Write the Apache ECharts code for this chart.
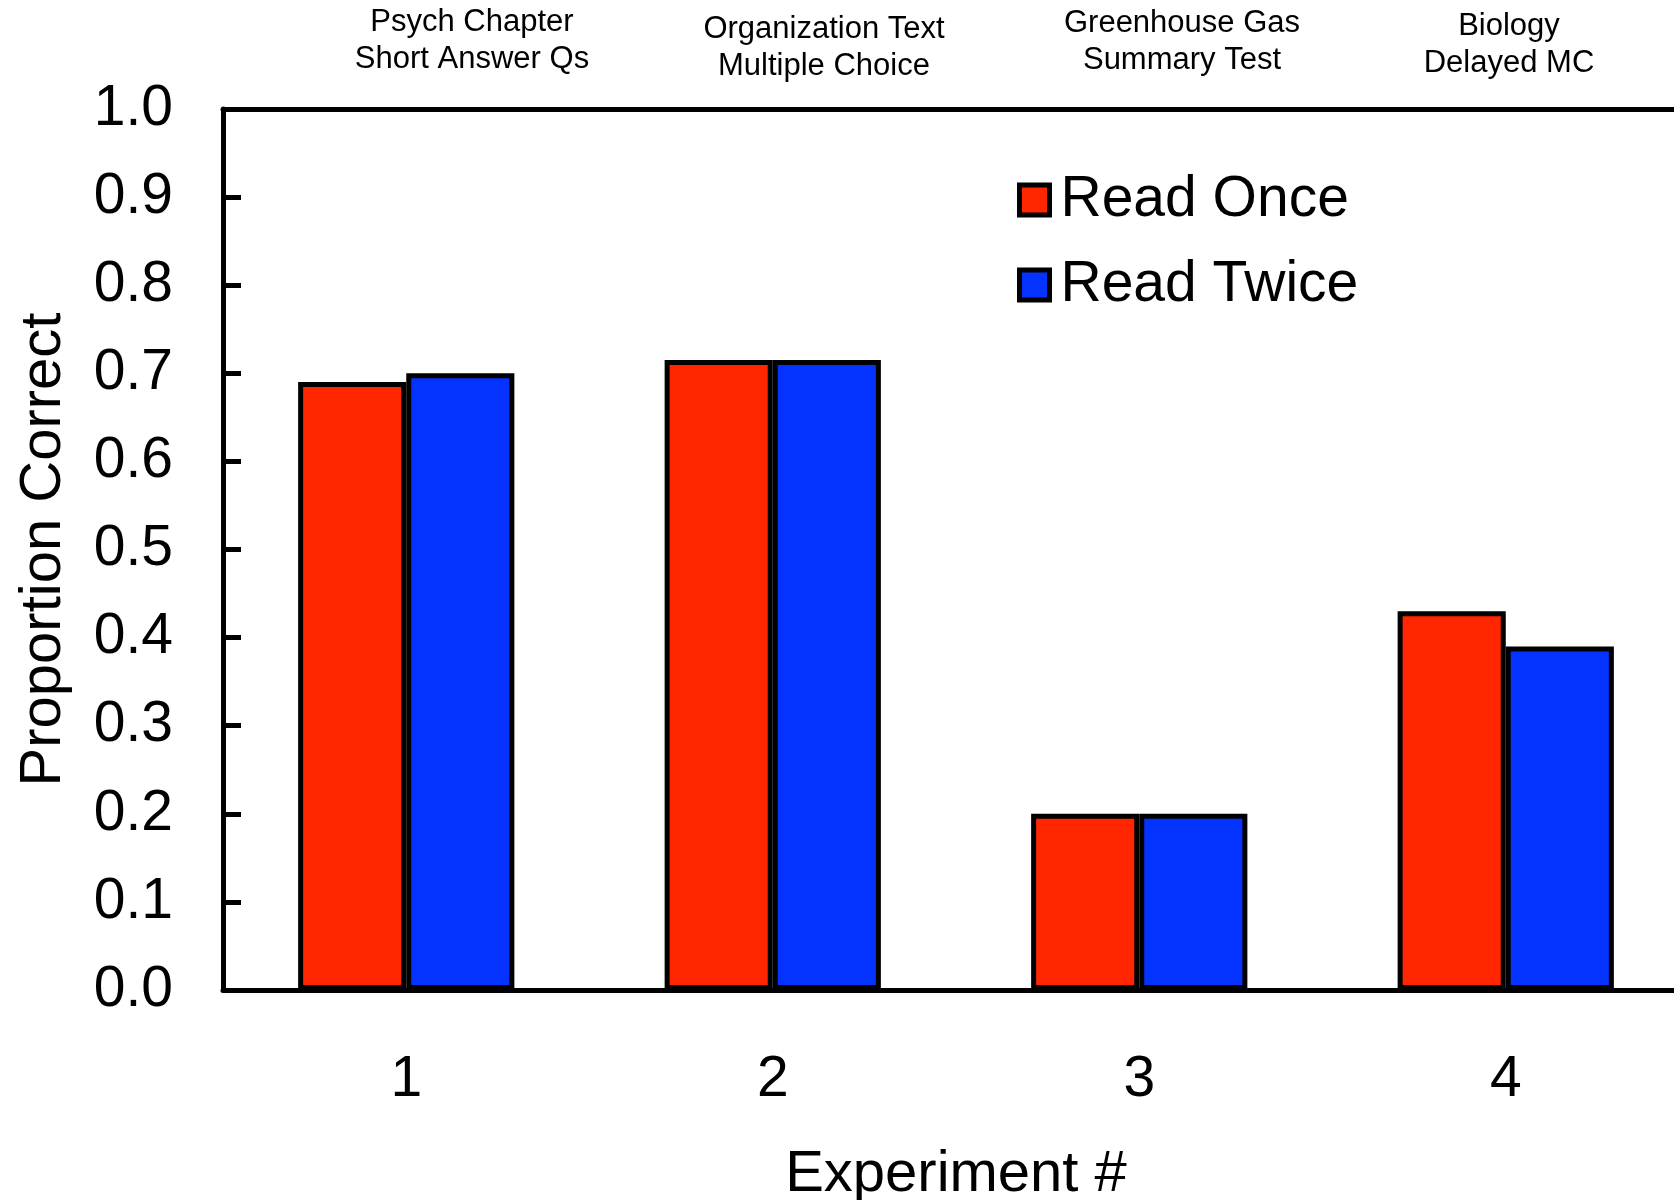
<!DOCTYPE html>
<html>
<head>
<meta charset="utf-8">
<script src="https://cdn.jsdelivr.net/npm/echarts@6/dist/echarts.min.js"></script>
<style>
	html, body { margin: 0; padding: 0; background: #fff; }
	#main { width: 1674px; height: 1200px; }
</style>
</head>
<body>
<div id="main"></div>
<script>
var experiments = ['1', '2', '3', '4'];
var topLabels = ['Psych Chapter\nShort Answer Qs', 'Organization Text\nMultiple Choice', 'Greenhouse Gas\nSummary Test', 'Biology\nDelayed MC'];
var readOnce = [0.69, 0.715, 0.2, 0.43];
var readTwice = [0.70, 0.715, 0.2, 0.39];
var yTicks = [0, 0.1, 0.2, 0.3, 0.4, 0.5, 0.6, 0.7, 0.8, 0.9, 1.0];

// where the study labels sit above the plot
var labelX = [472, 824, 1182, 1509];
var labelY = [41, 48, 42, 45];

var FONT = 'Liberation Sans, Arial, Helvetica, sans-serif';

var chart = echarts.init(document.getElementById('main'));

var graphics = [];
for (var i = 0; i < topLabels.length; i++) {
	graphics.push({
		type: 'text',
		x: labelX[i],
		y: labelY[i],
		style: {
			text: topLabels[i],
			font: '31px ' + FONT,
			fill: '#000',
			align: 'center',
			verticalAlign: 'middle',
			lineHeight: 37
		}
	});
}

chart.setOption({
	animation: false,
	backgroundColor: '#fff',
	grid: {
		left: 223,
		top: 109,
		bottom: 210,
		width: 1466,
		containLabel: false,
		outerBoundsMode: 'none'
	},
	legend: {
		orient: 'vertical',
		left: 1012,
		top: 155,
		itemWidth: 30,
		itemHeight: 30,
		itemGap: 5,
		icon: 'rect',
		textStyle: {
			fontFamily: FONT,
			fontSize: 57,
			color: '#000',
			lineHeight: 60,
			padding: [20, 0, 0, 6]
		},
		itemStyle: {
			borderColor: '#000',
			borderWidth: 5
		},
		data: ['Read Once', 'Read Twice']
	},
	xAxis: [{
		type: 'category',
		data: experiments,
		position: 'bottom',
		name: 'Experiment #',
		nameLocation: 'middle',
		nameGap: 156,
		nameTextStyle: {
			fontFamily: FONT,
			fontSize: 58,
			color: '#000'
		},
		axisLine: {
			lineStyle: { color: '#000', width: 5 }
		},
		axisTick: { show: false },
		axisLabel: {
			fontFamily: FONT,
			fontSize: 57,
			color: '#000',
			margin: 62
		}
	}, {
		type: 'category',
		data: experiments,
		position: 'top',
		axisLine: {
			lineStyle: { color: '#000', width: 5 }
		},
		axisTick: { show: false },
		axisLabel: { show: false }
	}],
	yAxis: {
		type: 'value',
		min: 0,
		max: 1,
		interval: 0.1,
		name: 'Proportion Correct',
		nameLocation: 'middle',
		nameGap: 150,
		nameTextStyle: {
			fontFamily: FONT,
			fontSize: 58,
			color: '#000'
		},
		axisLine: {
			show: true,
			lineStyle: { color: '#000', width: 5 }
		},
		axisTick: {
			show: true,
			inside: true,
			length: 18,
			lineStyle: { color: '#000', width: 5 }
		},
		axisLabel: {
			fontFamily: FONT,
			fontSize: 57,
			color: '#000',
			margin: 50,
			padding: [20, 0, 0, 0],
			formatter: function(v) {
				return v.toFixed(1);
			}
		},
		splitLine: { show: false }
	},
	series: [{
		name: 'Read Once',
		type: 'bar',
		data: readOnce,
		barGap: '0%',
		barCategoryGap: '41%',
		itemStyle: {
			color: '#FF2600',
			borderColor: '#000',
			borderWidth: 5
		}
	}, {
		name: 'Read Twice',
		type: 'bar',
		data: readTwice,
		barGap: '0%',
		barCategoryGap: '41%',
		itemStyle: {
			color: '#0433FF',
			borderColor: '#000',
			borderWidth: 5
		}
	}],
	graphic: graphics
});
</script>
</body>
</html>
